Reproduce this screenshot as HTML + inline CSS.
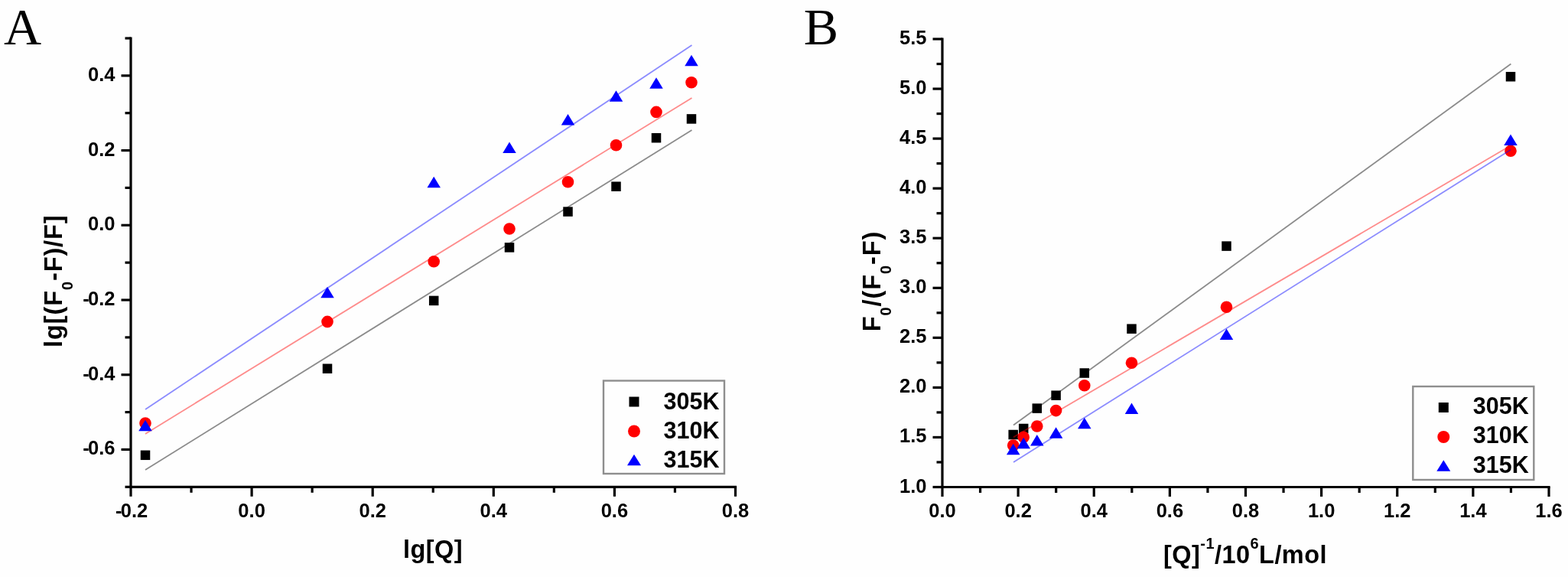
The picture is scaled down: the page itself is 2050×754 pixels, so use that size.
<!DOCTYPE html>
<html><head><meta charset="utf-8"><title>Chart</title>
<style>html,body{margin:0;padding:0;background:#fefefe;}svg{display:block;}</style>
</head><body>
<svg width="2050" height="754" viewBox="0 0 2050 754">
<rect width="2050" height="754" fill="#fefefe"/>
<g>
<path d="M171.00,48.40 V636.30 H963.10" fill="none" stroke="#000" stroke-width="3.2" stroke-linejoin="miter"/>
<line x1="171.00" y1="636.30" x2="171.00" y2="648.80" stroke="#000" stroke-width="3.2"/>
<line x1="250.05" y1="636.30" x2="250.05" y2="643.80" stroke="#000" stroke-width="3.2"/>
<line x1="329.10" y1="636.30" x2="329.10" y2="648.80" stroke="#000" stroke-width="3.2"/>
<line x1="408.15" y1="636.30" x2="408.15" y2="643.80" stroke="#000" stroke-width="3.2"/>
<line x1="487.20" y1="636.30" x2="487.20" y2="648.80" stroke="#000" stroke-width="3.2"/>
<line x1="566.25" y1="636.30" x2="566.25" y2="643.80" stroke="#000" stroke-width="3.2"/>
<line x1="645.30" y1="636.30" x2="645.30" y2="648.80" stroke="#000" stroke-width="3.2"/>
<line x1="724.35" y1="636.30" x2="724.35" y2="643.80" stroke="#000" stroke-width="3.2"/>
<line x1="803.40" y1="636.30" x2="803.40" y2="648.80" stroke="#000" stroke-width="3.2"/>
<line x1="882.45" y1="636.30" x2="882.45" y2="643.80" stroke="#000" stroke-width="3.2"/>
<line x1="961.50" y1="636.30" x2="961.50" y2="648.80" stroke="#000" stroke-width="3.2"/>
<line x1="171.00" y1="636.30" x2="163.50" y2="636.30" stroke="#000" stroke-width="3.2"/>
<line x1="171.00" y1="587.44" x2="158.50" y2="587.44" stroke="#000" stroke-width="3.2"/>
<line x1="171.00" y1="538.58" x2="163.50" y2="538.58" stroke="#000" stroke-width="3.2"/>
<line x1="171.00" y1="489.72" x2="158.50" y2="489.72" stroke="#000" stroke-width="3.2"/>
<line x1="171.00" y1="440.87" x2="163.50" y2="440.87" stroke="#000" stroke-width="3.2"/>
<line x1="171.00" y1="392.01" x2="158.50" y2="392.01" stroke="#000" stroke-width="3.2"/>
<line x1="171.00" y1="343.15" x2="163.50" y2="343.15" stroke="#000" stroke-width="3.2"/>
<line x1="171.00" y1="294.29" x2="158.50" y2="294.29" stroke="#000" stroke-width="3.2"/>
<line x1="171.00" y1="245.43" x2="163.50" y2="245.43" stroke="#000" stroke-width="3.2"/>
<line x1="171.00" y1="196.57" x2="158.50" y2="196.57" stroke="#000" stroke-width="3.2"/>
<line x1="171.00" y1="147.72" x2="163.50" y2="147.72" stroke="#000" stroke-width="3.2"/>
<line x1="171.00" y1="98.86" x2="158.50" y2="98.86" stroke="#000" stroke-width="3.2"/>
<line x1="171.00" y1="50.00" x2="163.50" y2="50.00" stroke="#000" stroke-width="3.2"/>
<text x="172.10" y="676.00" font-size="25.5" font-weight="bold" text-anchor="middle" font-family="'Liberation Sans', Arial, sans-serif" ><tspan letter-spacing="-1.8">-</tspan>0.2</text>
<text x="329.10" y="676.00" font-size="25.5" font-weight="bold" text-anchor="middle" font-family="'Liberation Sans', Arial, sans-serif" >0.0</text>
<text x="487.20" y="676.00" font-size="25.5" font-weight="bold" text-anchor="middle" font-family="'Liberation Sans', Arial, sans-serif" >0.2</text>
<text x="645.30" y="676.00" font-size="25.5" font-weight="bold" text-anchor="middle" font-family="'Liberation Sans', Arial, sans-serif" >0.4</text>
<text x="803.40" y="676.00" font-size="25.5" font-weight="bold" text-anchor="middle" font-family="'Liberation Sans', Arial, sans-serif" >0.6</text>
<text x="961.50" y="676.00" font-size="25.5" font-weight="bold" text-anchor="middle" font-family="'Liberation Sans', Arial, sans-serif" >0.8</text>
<text x="150.50" y="594.44" font-size="25.5" font-weight="bold" text-anchor="end" font-family="'Liberation Sans', Arial, sans-serif" ><tspan letter-spacing="-1.8">-</tspan>0.6</text>
<text x="150.50" y="496.73" font-size="25.5" font-weight="bold" text-anchor="end" font-family="'Liberation Sans', Arial, sans-serif" ><tspan letter-spacing="-1.8">-</tspan>0.4</text>
<text x="150.50" y="399.01" font-size="25.5" font-weight="bold" text-anchor="end" font-family="'Liberation Sans', Arial, sans-serif" ><tspan letter-spacing="-1.8">-</tspan>0.2</text>
<text x="150.50" y="301.29" font-size="25.5" font-weight="bold" text-anchor="end" font-family="'Liberation Sans', Arial, sans-serif" >0.0</text>
<text x="150.50" y="203.57" font-size="25.5" font-weight="bold" text-anchor="end" font-family="'Liberation Sans', Arial, sans-serif" >0.2</text>
<text x="150.50" y="105.86" font-size="25.5" font-weight="bold" text-anchor="end" font-family="'Liberation Sans', Arial, sans-serif" >0.4</text>
<rect x="183.75" y="588.55" width="12.50" height="12.50" fill="#000"/>
<rect x="421.75" y="475.45" width="12.50" height="12.50" fill="#000"/>
<rect x="560.95" y="386.65" width="12.50" height="12.50" fill="#000"/>
<rect x="659.75" y="317.15" width="12.50" height="12.50" fill="#000"/>
<rect x="736.25" y="270.35" width="12.50" height="12.50" fill="#000"/>
<rect x="799.25" y="237.45" width="12.50" height="12.50" fill="#000"/>
<rect x="851.75" y="173.95" width="12.50" height="12.50" fill="#000"/>
<rect x="897.75" y="149.15" width="12.50" height="12.50" fill="#000"/>
<line x1="190.00" y1="614.00" x2="904.50" y2="170.00" stroke="#000" stroke-width="1.8" stroke-opacity="0.45"/>
<circle cx="190.00" cy="553.00" r="7.80" fill="#ff0000"/>
<circle cx="428.00" cy="420.40" r="7.80" fill="#ff0000"/>
<circle cx="567.20" cy="341.80" r="7.80" fill="#ff0000"/>
<circle cx="666.00" cy="299.00" r="7.80" fill="#ff0000"/>
<circle cx="742.50" cy="237.80" r="7.80" fill="#ff0000"/>
<circle cx="805.50" cy="189.80" r="7.80" fill="#ff0000"/>
<circle cx="858.00" cy="146.40" r="7.80" fill="#ff0000"/>
<circle cx="904.00" cy="107.70" r="7.80" fill="#ff0000"/>
<line x1="190.00" y1="567.00" x2="904.50" y2="128.00" stroke="#f00" stroke-width="1.8" stroke-opacity="0.45"/>
<polygon points="190.00,548.75 198.75,563.25 181.25,563.25" fill="#0000ff"/>
<polygon points="428.00,374.65 436.75,389.15 419.25,389.15" fill="#0000ff"/>
<polygon points="567.20,230.65 575.95,245.15 558.45,245.15" fill="#0000ff"/>
<polygon points="666.00,185.45 674.75,199.95 657.25,199.95" fill="#0000ff"/>
<polygon points="742.50,148.95 751.25,163.45 733.75,163.45" fill="#0000ff"/>
<polygon points="805.50,118.15 814.25,132.65 796.75,132.65" fill="#0000ff"/>
<polygon points="858.00,101.25 866.75,115.75 849.25,115.75" fill="#0000ff"/>
<polygon points="904.00,71.75 912.75,86.25 895.25,86.25" fill="#0000ff"/>
<line x1="190.00" y1="535.00" x2="904.50" y2="59.00" stroke="#00f" stroke-width="1.8" stroke-opacity="0.45"/>
<rect x="789.00" y="497.50" width="158.00" height="121.50" fill="none" stroke="#8e8e8e" stroke-width="2.4"/>
<rect x="822.50" y="518.50" width="13.00" height="13.00" fill="#000"/>
<circle cx="829.00" cy="563.50" r="8.00" fill="#ff0000"/>
<polygon points="829.00,593.75 838.00,608.25 820.00,608.25" fill="#0000ff"/>
<text x="867.50" y="534.50" font-size="30.5" font-weight="bold" text-anchor="start" font-family="'Liberation Sans', Arial, sans-serif" >305K</text>
<text x="867.50" y="572.50" font-size="30.5" font-weight="bold" text-anchor="start" font-family="'Liberation Sans', Arial, sans-serif" >310K</text>
<text x="867.50" y="610.50" font-size="30.5" font-weight="bold" text-anchor="start" font-family="'Liberation Sans', Arial, sans-serif" >315K</text>
<text x="566.00" y="729.00" font-size="32.5" font-weight="bold" text-anchor="middle" font-family="'Liberation Sans', Arial, sans-serif" letter-spacing="0.45">lg[Q]</text>
<text transform="translate(81.0,454) rotate(-90)" font-size="32.5" letter-spacing="0.9" font-weight="bold" font-family="'Liberation Sans', Arial, sans-serif">lg[(F<tspan font-size="20" dy="14">0</tspan><tspan dy="-14">-F)/F]</tspan></text>
<text x="5.00" y="57.80" font-size="68" font-weight="normal" text-anchor="start" font-family="'Liberation Serif', 'Times New Roman', serif" >A</text>
<path d="M1232.00,49.40 V636.50 H2026.60" fill="none" stroke="#000" stroke-width="3.2" stroke-linejoin="miter"/>
<line x1="1232.00" y1="636.50" x2="1232.00" y2="649.00" stroke="#000" stroke-width="3.2"/>
<line x1="1281.56" y1="636.50" x2="1281.56" y2="644.00" stroke="#000" stroke-width="3.2"/>
<line x1="1331.12" y1="636.50" x2="1331.12" y2="649.00" stroke="#000" stroke-width="3.2"/>
<line x1="1380.69" y1="636.50" x2="1380.69" y2="644.00" stroke="#000" stroke-width="3.2"/>
<line x1="1430.25" y1="636.50" x2="1430.25" y2="649.00" stroke="#000" stroke-width="3.2"/>
<line x1="1479.81" y1="636.50" x2="1479.81" y2="644.00" stroke="#000" stroke-width="3.2"/>
<line x1="1529.38" y1="636.50" x2="1529.38" y2="649.00" stroke="#000" stroke-width="3.2"/>
<line x1="1578.94" y1="636.50" x2="1578.94" y2="644.00" stroke="#000" stroke-width="3.2"/>
<line x1="1628.50" y1="636.50" x2="1628.50" y2="649.00" stroke="#000" stroke-width="3.2"/>
<line x1="1678.06" y1="636.50" x2="1678.06" y2="644.00" stroke="#000" stroke-width="3.2"/>
<line x1="1727.62" y1="636.50" x2="1727.62" y2="649.00" stroke="#000" stroke-width="3.2"/>
<line x1="1777.19" y1="636.50" x2="1777.19" y2="644.00" stroke="#000" stroke-width="3.2"/>
<line x1="1826.75" y1="636.50" x2="1826.75" y2="649.00" stroke="#000" stroke-width="3.2"/>
<line x1="1876.31" y1="636.50" x2="1876.31" y2="644.00" stroke="#000" stroke-width="3.2"/>
<line x1="1925.88" y1="636.50" x2="1925.88" y2="649.00" stroke="#000" stroke-width="3.2"/>
<line x1="1975.44" y1="636.50" x2="1975.44" y2="644.00" stroke="#000" stroke-width="3.2"/>
<line x1="2025.00" y1="636.50" x2="2025.00" y2="649.00" stroke="#000" stroke-width="3.2"/>
<line x1="1232.00" y1="636.50" x2="1219.50" y2="636.50" stroke="#000" stroke-width="3.2"/>
<line x1="1232.00" y1="603.97" x2="1224.50" y2="603.97" stroke="#000" stroke-width="3.2"/>
<line x1="1232.00" y1="571.44" x2="1219.50" y2="571.44" stroke="#000" stroke-width="3.2"/>
<line x1="1232.00" y1="538.92" x2="1224.50" y2="538.92" stroke="#000" stroke-width="3.2"/>
<line x1="1232.00" y1="506.39" x2="1219.50" y2="506.39" stroke="#000" stroke-width="3.2"/>
<line x1="1232.00" y1="473.86" x2="1224.50" y2="473.86" stroke="#000" stroke-width="3.2"/>
<line x1="1232.00" y1="441.33" x2="1219.50" y2="441.33" stroke="#000" stroke-width="3.2"/>
<line x1="1232.00" y1="408.81" x2="1224.50" y2="408.81" stroke="#000" stroke-width="3.2"/>
<line x1="1232.00" y1="376.28" x2="1219.50" y2="376.28" stroke="#000" stroke-width="3.2"/>
<line x1="1232.00" y1="343.75" x2="1224.50" y2="343.75" stroke="#000" stroke-width="3.2"/>
<line x1="1232.00" y1="311.22" x2="1219.50" y2="311.22" stroke="#000" stroke-width="3.2"/>
<line x1="1232.00" y1="278.69" x2="1224.50" y2="278.69" stroke="#000" stroke-width="3.2"/>
<line x1="1232.00" y1="246.17" x2="1219.50" y2="246.17" stroke="#000" stroke-width="3.2"/>
<line x1="1232.00" y1="213.64" x2="1224.50" y2="213.64" stroke="#000" stroke-width="3.2"/>
<line x1="1232.00" y1="181.11" x2="1219.50" y2="181.11" stroke="#000" stroke-width="3.2"/>
<line x1="1232.00" y1="148.58" x2="1224.50" y2="148.58" stroke="#000" stroke-width="3.2"/>
<line x1="1232.00" y1="116.06" x2="1219.50" y2="116.06" stroke="#000" stroke-width="3.2"/>
<line x1="1232.00" y1="83.53" x2="1224.50" y2="83.53" stroke="#000" stroke-width="3.2"/>
<line x1="1232.00" y1="51.00" x2="1219.50" y2="51.00" stroke="#000" stroke-width="3.2"/>
<text x="1232.00" y="676.00" font-size="25.5" font-weight="bold" text-anchor="middle" font-family="'Liberation Sans', Arial, sans-serif" >0.0</text>
<text x="1331.12" y="676.00" font-size="25.5" font-weight="bold" text-anchor="middle" font-family="'Liberation Sans', Arial, sans-serif" >0.2</text>
<text x="1430.25" y="676.00" font-size="25.5" font-weight="bold" text-anchor="middle" font-family="'Liberation Sans', Arial, sans-serif" >0.4</text>
<text x="1529.38" y="676.00" font-size="25.5" font-weight="bold" text-anchor="middle" font-family="'Liberation Sans', Arial, sans-serif" >0.6</text>
<text x="1628.50" y="676.00" font-size="25.5" font-weight="bold" text-anchor="middle" font-family="'Liberation Sans', Arial, sans-serif" >0.8</text>
<text x="1727.62" y="676.00" font-size="25.5" font-weight="bold" text-anchor="middle" font-family="'Liberation Sans', Arial, sans-serif" >1.0</text>
<text x="1826.75" y="676.00" font-size="25.5" font-weight="bold" text-anchor="middle" font-family="'Liberation Sans', Arial, sans-serif" >1.2</text>
<text x="1925.88" y="676.00" font-size="25.5" font-weight="bold" text-anchor="middle" font-family="'Liberation Sans', Arial, sans-serif" >1.4</text>
<text x="2025.00" y="676.00" font-size="25.5" font-weight="bold" text-anchor="middle" font-family="'Liberation Sans', Arial, sans-serif" >1.6</text>
<text x="1211.50" y="643.50" font-size="25.5" font-weight="bold" text-anchor="end" font-family="'Liberation Sans', Arial, sans-serif" >1.0</text>
<text x="1211.50" y="578.44" font-size="25.5" font-weight="bold" text-anchor="end" font-family="'Liberation Sans', Arial, sans-serif" >1.5</text>
<text x="1211.50" y="513.39" font-size="25.5" font-weight="bold" text-anchor="end" font-family="'Liberation Sans', Arial, sans-serif" >2.0</text>
<text x="1211.50" y="448.33" font-size="25.5" font-weight="bold" text-anchor="end" font-family="'Liberation Sans', Arial, sans-serif" >2.5</text>
<text x="1211.50" y="383.28" font-size="25.5" font-weight="bold" text-anchor="end" font-family="'Liberation Sans', Arial, sans-serif" >3.0</text>
<text x="1211.50" y="318.22" font-size="25.5" font-weight="bold" text-anchor="end" font-family="'Liberation Sans', Arial, sans-serif" >3.5</text>
<text x="1211.50" y="253.17" font-size="25.5" font-weight="bold" text-anchor="end" font-family="'Liberation Sans', Arial, sans-serif" >4.0</text>
<text x="1211.50" y="188.11" font-size="25.5" font-weight="bold" text-anchor="end" font-family="'Liberation Sans', Arial, sans-serif" >4.5</text>
<text x="1211.50" y="123.06" font-size="25.5" font-weight="bold" text-anchor="end" font-family="'Liberation Sans', Arial, sans-serif" >5.0</text>
<text x="1211.50" y="58.00" font-size="25.5" font-weight="bold" text-anchor="end" font-family="'Liberation Sans', Arial, sans-serif" >5.5</text>
<rect x="1318.45" y="561.75" width="12.50" height="12.50" fill="#000"/>
<rect x="1331.95" y="553.75" width="12.50" height="12.50" fill="#000"/>
<rect x="1349.55" y="527.35" width="12.50" height="12.50" fill="#000"/>
<rect x="1374.35" y="510.45" width="12.50" height="12.50" fill="#000"/>
<rect x="1411.55" y="481.25" width="12.50" height="12.50" fill="#000"/>
<rect x="1473.25" y="423.45" width="12.50" height="12.50" fill="#000"/>
<rect x="1597.25" y="315.35" width="12.50" height="12.50" fill="#000"/>
<rect x="1968.75" y="93.95" width="12.50" height="12.50" fill="#000"/>
<line x1="1325.00" y1="555.60" x2="1975.40" y2="83.50" stroke="#000" stroke-width="1.8" stroke-opacity="0.45"/>
<circle cx="1324.70" cy="582.00" r="7.80" fill="#ff0000"/>
<circle cx="1338.20" cy="571.30" r="7.80" fill="#ff0000"/>
<circle cx="1355.80" cy="557.00" r="7.80" fill="#ff0000"/>
<circle cx="1380.60" cy="536.60" r="7.80" fill="#ff0000"/>
<circle cx="1417.80" cy="503.80" r="7.80" fill="#ff0000"/>
<circle cx="1479.50" cy="474.20" r="7.80" fill="#ff0000"/>
<circle cx="1603.50" cy="401.30" r="7.80" fill="#ff0000"/>
<circle cx="1975.00" cy="197.30" r="7.80" fill="#ff0000"/>
<line x1="1325.00" y1="571.30" x2="1975.00" y2="190.30" stroke="#f00" stroke-width="1.8" stroke-opacity="0.45"/>
<polygon points="1324.70,579.75 1333.45,594.25 1315.95,594.25" fill="#0000ff"/>
<polygon points="1338.20,571.75 1346.95,586.25 1329.45,586.25" fill="#0000ff"/>
<polygon points="1355.80,568.05 1364.55,582.55 1347.05,582.55" fill="#0000ff"/>
<polygon points="1380.60,558.15 1389.35,572.65 1371.85,572.65" fill="#0000ff"/>
<polygon points="1417.80,545.75 1426.55,560.25 1409.05,560.25" fill="#0000ff"/>
<polygon points="1479.50,526.55 1488.25,541.05 1470.75,541.05" fill="#0000ff"/>
<polygon points="1603.50,429.55 1612.25,444.05 1594.75,444.05" fill="#0000ff"/>
<polygon points="1975.00,175.55 1983.75,190.05 1966.25,190.05" fill="#0000ff"/>
<line x1="1325.00" y1="604.00" x2="1975.00" y2="195.80" stroke="#00f" stroke-width="1.8" stroke-opacity="0.45"/>
<rect x="1847.30" y="505.00" width="158.00" height="122.00" fill="none" stroke="#8e8e8e" stroke-width="2.4"/>
<rect x="1880.80" y="526.00" width="13.00" height="13.00" fill="#000"/>
<circle cx="1887.30" cy="571.00" r="8.00" fill="#ff0000"/>
<polygon points="1887.30,601.25 1896.30,615.75 1878.30,615.75" fill="#0000ff"/>
<text x="1925.80" y="540.50" font-size="30.5" font-weight="bold" text-anchor="start" font-family="'Liberation Sans', Arial, sans-serif" >305K</text>
<text x="1925.80" y="579.10" font-size="30.5" font-weight="bold" text-anchor="start" font-family="'Liberation Sans', Arial, sans-serif" >310K</text>
<text x="1925.80" y="617.70" font-size="30.5" font-weight="bold" text-anchor="start" font-family="'Liberation Sans', Arial, sans-serif" >315K</text>
<text x="1628" y="736.4" font-size="32.5" letter-spacing="0.45" font-weight="bold" text-anchor="middle" font-family="'Liberation Sans', Arial, sans-serif">[Q]<tspan font-size="20" dy="-19.2">-1</tspan><tspan dy="19.2">/10</tspan><tspan font-size="20" dy="-19.2">6</tspan><tspan dy="19.2">L/mol</tspan></text>
<text transform="translate(1150.8,433.2) rotate(-90)" font-size="32.5" letter-spacing="0.9" font-weight="bold" font-family="'Liberation Sans', Arial, sans-serif">F<tspan font-size="20" dy="14">0</tspan><tspan dy="-14">/(F</tspan><tspan font-size="20" dy="14">0</tspan><tspan dy="-14">-F)</tspan></text>
<text x="1050.80" y="57.60" font-size="68" font-weight="normal" text-anchor="start" font-family="'Liberation Serif', 'Times New Roman', serif" >B</text>
</g>
</svg>
</body></html>
